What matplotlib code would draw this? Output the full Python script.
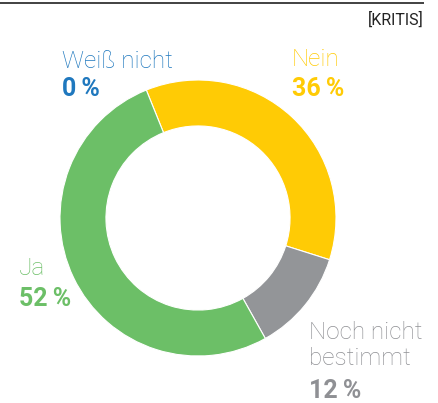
import matplotlib
matplotlib.use("Agg")
import matplotlib.pyplot as plt

categories = ["Weiß nicht", "Nein", "Noch nicht bestimmt", "Ja"]
values = [0, 36, 12, 52]
value_labels = ["0\u2009%", "36\u2009%", "12\u2009%", "52\u2009%"]
colors = ["#1F78BE", "#FFCB05", "#939598", "#6CBF67"]
source = "[KRITIS]"

W, H = 438, 403
fig = plt.figure(figsize=(W / 100, H / 100), dpi=100)

# donut axes: centre (198, 218), outer radius 138 px
cx, cy, r = 198, 218, 138
pax = fig.add_axes([(cx - r) / W, (H - cy - r) / H, 2 * r / W, 2 * r / H])
pax.pie(values, colors=colors, startangle=112, counterclock=False, radius=1,
        wedgeprops=dict(width=0.333, edgecolor="white", linewidth=0.8))
pax.set_xlim(-1, 1)
pax.set_ylim(-1, 1)
pax.axis("off")

# overlay axes in pixel coordinates
ax = fig.add_axes([0, 0, 1, 1], zorder=5)
ax.set_xlim(0, W)
ax.set_ylim(H, 0)
ax.axis("off")
ax.patch.set_alpha(0)

ax.plot([0, 424], [3, 3], color="#333333", lw=1.3, solid_capstyle="butt")
fam = ["Roboto", "DejaVu Sans"]
ax.text(424, 25, source, ha="right", va="baseline", fontsize=11.5, family=fam, color="#222222")

lab_fs = 17.5
num_fs = 18
gray_txt = "#8F9094"
# Weiß nicht
ax.text(62, 68, "Weiß nicht", ha="left", va="baseline", fontsize=lab_fs, family=fam, weight="light", color=colors[0])
ax.text(62, 96, value_labels[0], ha="left", va="baseline", fontsize=num_fs, family=fam, weight="bold", color=colors[0])
# Nein
ax.text(292, 66, "Nein", ha="left", va="baseline", fontsize=lab_fs, family=fam, weight="light", color=colors[1])
ax.text(292, 96, value_labels[1], ha="left", va="baseline", fontsize=num_fs, family=fam, weight="bold", color=colors[1])
# Noch nicht bestimmt
ax.text(309, 339, "Noch nicht", ha="left", va="baseline", fontsize=lab_fs, family=fam, weight="light", color=gray_txt)
ax.text(309, 365, "bestimmt", ha="left", va="baseline", fontsize=lab_fs, family=fam, weight="light", color=gray_txt)
ax.text(309, 398, value_labels[2], ha="left", va="baseline", fontsize=num_fs, family=fam, weight="bold", color=gray_txt)
# Ja
ax.text(19, 275, "Ja", ha="left", va="baseline", fontsize=lab_fs, family=fam, weight="light", color=colors[3])
ax.text(19, 306, value_labels[3], ha="left", va="baseline", fontsize=num_fs, family=fam, weight="bold", color=colors[3])

fig.savefig("out.png", dpi=100)
